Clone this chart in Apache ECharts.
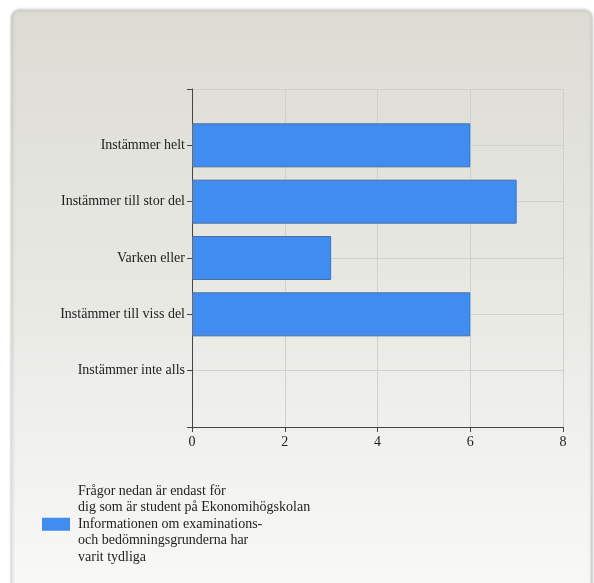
<!DOCTYPE html>
<html><head><meta charset="utf-8">
<script src="https://cdn.jsdelivr.net/npm/echarts@6/dist/echarts.min.js"></script>
<style>html,body{margin:0;padding:0;background:#fff}#c{width:594px;height:583px}</style>
</head><body><div id="c"></div>
<script>
const categories = ['Instämmer helt', 'Instämmer till stor del', 'Varken eller', 'Instämmer till viss del', 'Instämmer inte alls'];
const values = [6, 7, 3, 6, 0];
const xTicks = [0, 2, 4, 6, 8];
const seriesName = 'Frågor nedan är endast för\ndig som är student på Ekonomihögskolan\nInformationen om examinations-\noch bedömningsgrunderna har\nvarit tydliga';

const yCats = [''].concat(categories).concat(['']);
const yData = [null].concat(values.map(v => v === 0 ? {value: 0, itemStyle: {borderWidth: 0}} : v)).concat([null]);
const font = 'Liberation Serif';
const chart = echarts.init(document.getElementById('c'));
chart.setOption({
  animation: false,
  graphic: [{
    type: 'rect', z: -10, silent: true,
    shape: {x: 11, y: 10, width: 580, height: 590, r: 8},
    style: {
      fill: new echarts.graphic.LinearGradient(0, 0, 0, 1, [
        {offset: 0, color: '#dcdbd4'}, {offset: 0.5, color: '#e9e9e4'}, {offset: 1, color: '#f9f9f8'}]),
      stroke: '#d8d8d4', lineWidth: 1,
      shadowBlur: 3, shadowColor: 'rgba(0,0,0,0.25)', shadowOffsetX: 1, shadowOffsetY: 0
    }
  }],
  grid: {left: 192, top: 89, right: 31, bottom: 156, containLabel: false},
  xAxis: {
    type: 'value', min: xTicks[0], max: xTicks[xTicks.length - 1], interval: 2,
    axisLine: {show: true, lineStyle: {color: '#444', width: 1}},
    axisTick: {show: true, length: 5, lineStyle: {color: '#444'}},
    axisLabel: {fontFamily: font, fontSize: 14, color: '#222', margin: 8},
    splitLine: {show: true, lineStyle: {color: '#d0d0cc', width: 1}}
  },
  yAxis: {
    type: 'category', data: yCats, inverse: true, boundaryGap: false,
    axisLine: {show: true, onZero: false, lineStyle: {color: '#444', width: 1}},
    axisTick: {show: true, length: 5, lineStyle: {color: '#444'}},
    axisLabel: {fontFamily: font, fontSize: 14, color: '#222', margin: 7},
    splitLine: {show: true, lineStyle: {color: '#d0d0cc', width: 1}}
  },
  legend: {
    show: true, left: 37, top: 478, orient: 'vertical', icon: 'rect',
    itemWidth: 28, itemHeight: 13, itemGap: 5,
    itemStyle: {borderWidth: 0},
    textStyle: {fontFamily: font, fontSize: 14, color: '#222', lineHeight: 16.5, padding: [0, 0, 0, 3]}
  },
  series: [{
    name: seriesName, type: 'bar', data: yData, barWidth: 44,
    itemStyle: {color: '#418cf0', borderColor: '#4a6f9e', borderWidth: 1}
  }]
});
</script></body></html>
